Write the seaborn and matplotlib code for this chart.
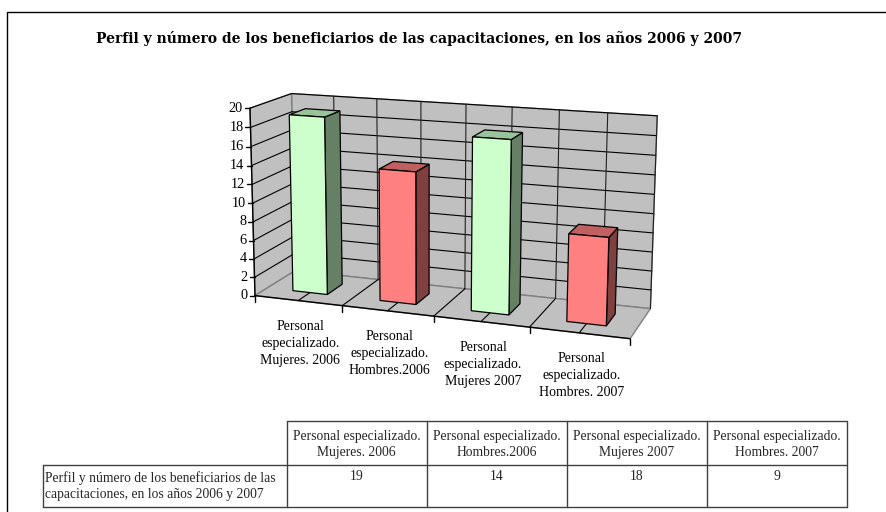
import numpy as np
import pandas as pd
import matplotlib
matplotlib.use("Agg")
import matplotlib.pyplot as plt
import seaborn as sns
from matplotlib.transforms import Transform
from matplotlib.patches import Polygon, Rectangle
from matplotlib.lines import Line2D

# ---------------- data ----------------
categories = ["Personal especializado. Mujeres. 2006",
              "Personal especializado. Hombres.2006",
              "Personal especializado. Mujeres 2007",
              "Personal especializado. Hombres. 2007"]
values = [19, 14, 18, 9]
front_colors = ["#CCFFCC", "#FF8080", "#CCFFCC", "#FF8080"]
side_colors = ["#668066", "#804040", "#668066", "#804040"]
top_colors = ["#99C499", "#C06060", "#99C499", "#C06060"]
y_ticks = list(range(0, 21, 2))
title = "Perfil y número de los beneficiarios de las capacitaciones, en los años 2006 y 2007"
row_label = "Perfil y número de los beneficiarios de las\ncapacitaciones, en los años 2006 y 2007"

W, H = 886, 512
sns.set_theme(style="white")
plt.rcParams['font.family'] = ['Liberation Serif', 'DejaVu Serif']

fig = plt.figure(figsize=(W / 100, H / 100), dpi=100)
ax = fig.add_axes([0, 0, 1, 1])

# ---------------- 3D camera (layout calibration of the plot box) ----------------
U_MAX, V_MAX = 4.0, 20.0
calib_world = np.array([[0, 0, 0], [0, 20, 0], [0, 0, 1], [0, 20, 1],
                        [4, 20, 1], [4, 0, 1], [4, 0, 0]], float)
calib_pix = np.array([[256.7, 294.3], [248.3, 108.3], [293.3, 272.0], [293.3, 93.3],
                      [657.0, 116.0], [650.7, 307.3], [630.0, 340.0]])
SCALE = np.array([U_MAX, V_MAX, 1.0])


def fit_camera(wp, pp):
    rows = []
    for (X, Y, Z), (x, y) in zip(wp / SCALE, pp / 500.0):
        rows.append([X, Y, Z, 1, 0, 0, 0, 0, -x * X, -x * Y, -x * Z, -x])
        rows.append([0, 0, 0, 0, X, Y, Z, 1, -y * X, -y * Y, -y * Z, -y])
    _, _, vt = np.linalg.svd(np.array(rows))
    return vt[-1].reshape(3, 4)


P = fit_camera(calib_world, calib_pix)


def project_px(pts):
    pts = np.atleast_2d(np.asarray(pts, float)) / SCALE
    h = np.c_[pts, np.ones(len(pts))] @ P.T
    return h[:, :2] / h[:, 2:3] * 500.0


def project(pts):
    xy = project_px(pts)
    return np.c_[xy[:, 0] / W, 1 - xy[:, 1] / H]


def px(x, y):
    return x / W, 1 - y / H


class Plane(Transform):
    input_dims = output_dims = 2
    is_separable = False
    has_inverse = False

    def __init__(self, mapper):
        super().__init__()
        self.mapper = mapper

    def transform_non_affine(self, values):
        return project(self.mapper(np.asarray(values, float)))


D_FRONT, D_BACK = 0.3, 0.7
TF = fig.transFigure

# ---------------- bars via seaborn ----------------
df = pd.DataFrame({"cat": categories, "val": values})
sns.barplot(data=df, x="cat", y="val", hue="cat", palette=front_colors, width=0.4,
            saturation=1, edgecolor="black", linewidth=0.9, legend=False, ax=ax)
ax.set_axis_off()
bars = sorted(list(ax.patches), key=lambda p: p.get_x())

front_tf = Plane(lambda a: np.c_[a[:, 0] + 0.5, a[:, 1], np.full(len(a), D_FRONT)]) + TF
for p in bars:
    p.set_transform(front_tf)
    p.set_zorder(6)
    p.set_clip_on(False)

for p, sc, tc in zip(bars, side_colors, top_colors):
    x0, w, h = p.get_x(), p.get_width(), p.get_height()
    u0, u1 = x0 + 0.5, x0 + w + 0.5
    side = [(u1, 0, D_FRONT), (u1, 0, D_BACK), (u1, h, D_BACK), (u1, h, D_FRONT)]
    top = [(u0, h, D_FRONT), (u1, h, D_FRONT), (u1, h, D_BACK), (u0, h, D_BACK)]
    for poly, c in ((side, sc), (top, tc)):
        ax.add_patch(Polygon(project(poly), closed=True, transform=TF, fc=c,
                             ec="black", lw=0.9, zorder=5, clip_on=False))

# ---------------- walls and grid ----------------
WALL = "#C0C0C0"
walls = [
    [(0, 0, 1), (4, 0, 1), (4, 20, 1), (0, 20, 1)],
    [(0, 0, 0), (0, 0, 1), (0, 20, 1), (0, 20, 0)],
    [(0, 0, 0), (4, 0, 0), (4, 0, 1), (0, 0, 1)],
]
for wpoly in walls:
    ax.add_patch(Polygon(project(wpoly), closed=True, transform=TF, fc=WALL,
                         ec="#808080", lw=1.0, zorder=1, clip_on=False))


def seg(a, b, color="black", lw=0.8, z=2):
    pts = project([a, b])
    ax.add_line(Line2D(pts[:, 0], pts[:, 1], transform=TF, color=color, lw=lw,
                       zorder=z, clip_on=False))


for v in y_ticks[1:]:
    seg((0, v, 1), (4, v, 1))
    seg((0, v, 0), (0, v, 1))
for k in range(1, 9):
    u = k * 0.5
    seg((u, 0, 1), (u, 20, 1), color="#202020")
    if k < 8:
        seg((u, 0, 0), (u, 0, 1))

# axes lines
seg((0, 0, 0), (0, 20, 0), lw=1.0, z=3)
seg((0, 0, 0), (4, 0, 0), lw=1.0, z=3)

# y ticks
for v in y_ticks:
    x, y = project_px([(0, v, 0)])[0]
    ax.add_line(Line2D([px(x - 5, y)[0], px(x, y)[0]], [px(x, y)[1]] * 2, transform=TF,
                       color="black", lw=1.0, clip_on=False, zorder=3))
    ax.text(*px(x - 7, y), str(v), transform=TF, ha="right", va="center",
            fontsize=10.3, color="black")

# x ticks
for k in range(5):
    x, y = project_px([(k, 0, 0)])[0]
    ax.add_line(Line2D([px(x, y)[0]] * 2, [px(x, y)[1], px(x, y + 6)[1]], transform=TF,
                       color="black", lw=1.0, clip_on=False, zorder=3))


def axis_label(c):
    return "\n".join(c.split(" ", 2))


for i, c in enumerate(categories):
    x, y = project_px([(i + 0.5, 0, 0)])[0]
    ax.text(*px(x + 2, y + 19), axis_label(c), transform=TF, ha="center", va="top",
            fontsize=10, linespacing=1.42, color="black")

# ---------------- title (fitted to the reference width) ----------------
t = fig.text(*px(419, 39), title, ha="center", va="center", fontsize=10,
             fontweight="bold", family=["DejaVu Serif"], color="black")
renderer = fig.canvas.get_renderer()
tw = t.get_window_extent(renderer).width
t.set_fontsize(10 * 644 / tw)

# ---------------- data table ----------------
col_edges = [286.5 + 140 * k for k in range(5)]
y_top, y_mid, y_bot = 421.0, 465.0, 506.7
x_left = 42.7
tcol = "#404040"


def hline(y, x0, x1):
    fig.add_artist(Line2D([px(x0, y)[0], px(x1, y)[0]], [px(x0, y)[1]] * 2,
                          transform=TF, color=tcol, lw=1.0))


def vline(x, y0, y1):
    fig.add_artist(Line2D([px(x, y0)[0]] * 2, [px(x, y0)[1], px(x, y1)[1]],
                          transform=TF, color=tcol, lw=1.0))


hline(y_top, col_edges[0], col_edges[-1])
hline(y_mid, x_left, col_edges[-1])
hline(y_bot, x_left, col_edges[-1])
vline(x_left, y_mid, y_bot)
for xe in col_edges:
    vline(xe, y_top, y_bot)


def table_label(c):
    head = "Personal especializado."
    return head + "\n" + c[len(head):].strip()


for k, (c, v) in enumerate(zip(categories, values)):
    xc = (col_edges[k] + col_edges[k + 1]) / 2
    fig.text(*px(xc, 444.5), table_label(c), ha="center", va="center",
             fontsize=9.8, linespacing=1.3)
    fig.text(*px(xc, 476), str(v), ha="center", va="center", fontsize=9.8)

fig.text(*px(45, 486.5), row_label, ha="left", va="center", fontsize=9.8, linespacing=1.32)

# ---------------- outer frame ----------------
fig.add_artist(Rectangle(px(7, 530), (900 - 7) / W, (530 - 11.5) / H, transform=TF,
                         fill=False, ec="black", lw=1.0))

fig.savefig("out.png", dpi=100)
